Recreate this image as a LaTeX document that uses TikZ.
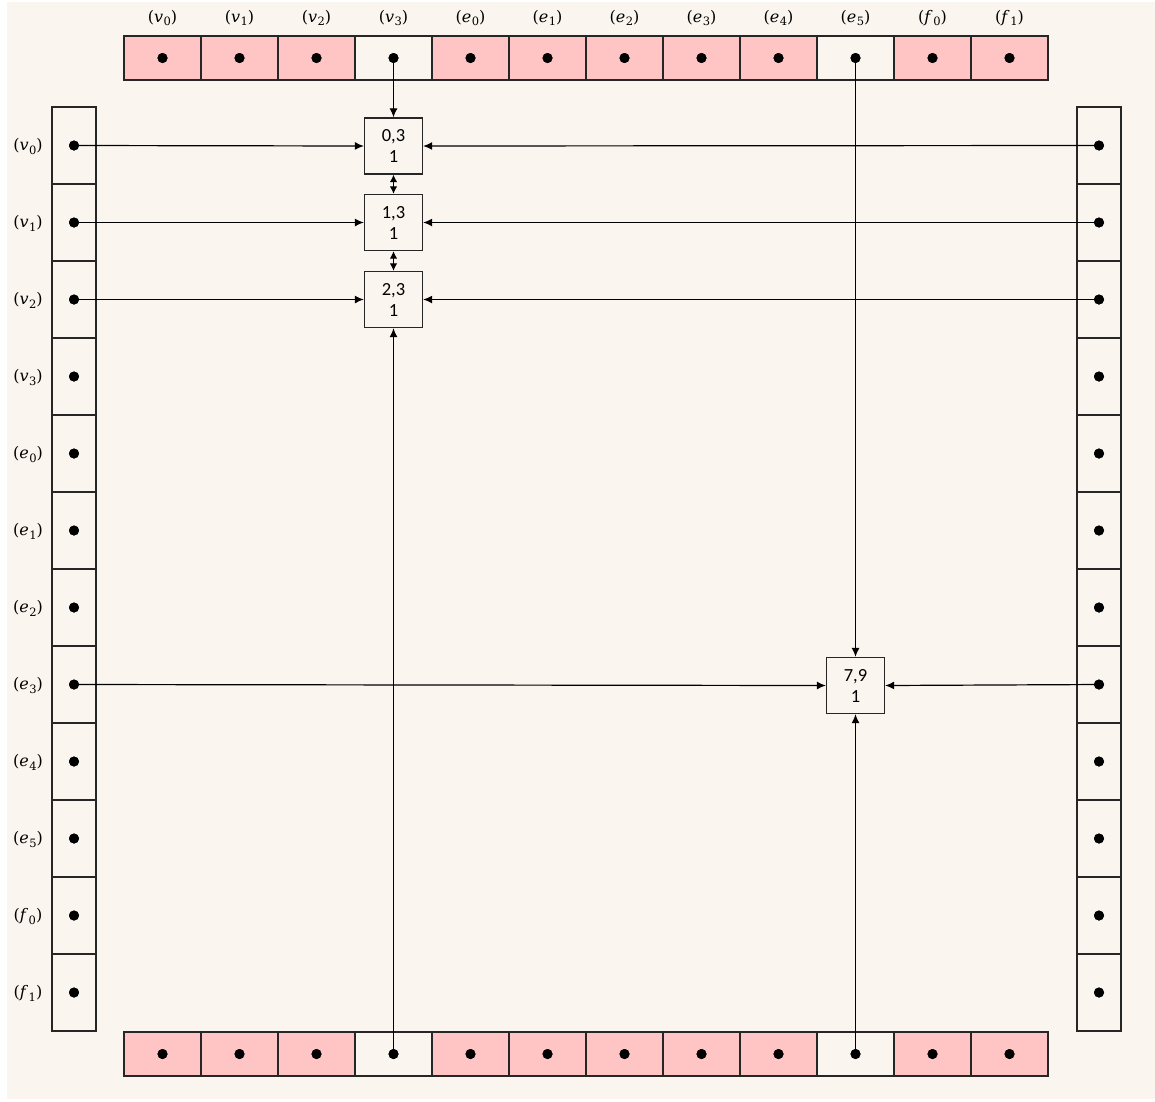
\documentclass[tikz,border=0pt]{standalone}
\usepackage{fontspec}
\newfontfamily\boxfont{Carlito}
\newfontfamily\labfont{DejaVu Serif}
\usetikzlibrary{arrows.meta}
\definecolor{bgc}{HTML}{FAF6EF}
\definecolor{pinkc}{HTML}{FFC4C4}
\newcommand{\biglab}[2]{{\labfont\fontsize{16}{19}\selectfont(\textit{#1}\kern0.5pt\raisebox{-3.5pt}{\fontsize{11.5}{13}\selectfont #2})}}
\begin{document}
\begin{tikzpicture}[x=1pt,y=-1pt,
  cell/.style={draw=black!85,line width=1.3pt,inner sep=0pt,outer sep=0pt},
  hcell/.style={cell,minimum width=77pt,minimum height=44pt},
  vcell/.style={cell,minimum width=44pt,minimum height=77pt},
  dotn/.style={circle,fill=black,inner sep=0pt,minimum size=10pt},
  lab/.style={inner sep=0pt},
  valbox/.style={draw=black!85,line width=1.3pt,fill=bgc,minimum width=58pt,minimum height=56pt,inner sep=0pt,align=center,font=\boxfont\fontsize{18.5}{21}\selectfont},
  arr/.style={line width=1.2pt,-{Latex[length=9pt,width=8pt]}},
  darr/.style={line width=1.2pt,{Latex[length=7.5pt,width=7.5pt]}-{Latex[length=7.5pt,width=7.5pt]}}]
\useasboundingbox (0,0) rectangle (1155,1101);
\fill[white] (0,0) rectangle (1155,1101);
\fill[bgc] (7,2) rectangle (1155,1099);
% top and bottom rows
\foreach \i/\a/\b in {0/v/0,1/v/1,2/v/2,3/v/3,4/e/0,5/e/1,6/e/2,7/e/3,8/e/4,9/e/5,10/f/0,11/f/1}{
  \ifnum\i=3 \def\fc{bgc}\else\ifnum\i=9 \def\fc{bgc}\else\def\fc{pinkc}\fi\fi
  \node[hcell,fill=\fc] (t\i) at ({162.5+77*\i},58) {};
  \node[dotn] (td\i) at (t\i.center) {};
  \node[lab] (tl\i) at ({162.5+77*\i},18) {\biglab{\a}{\b}};
  \node[hcell,fill=\fc] (b\i) at ({162.5+77*\i},1054) {};
  \node[dotn] (bd\i) at (b\i.center) {};
  \node[vcell,fill=bgc] (l\i) at (74,{145.5+77*\i}) {};
  \node[dotn] (ld\i) at (l\i.center) {};
  \node[lab] (ll\i) at (28,{146.5+77*\i}) {\biglab{\a}{\b}};
  \node[vcell,fill=bgc] (r\i) at (1099,{145.5+77*\i}) {};
  \node[dotn] (rd\i) at (r\i.center) {};
}
% value boxes
\node[valbox] (A) at (393.5,146) {0,3\\1};
\node[valbox] (B) at (393.5,222.5) {1,3\\1};
\node[valbox] (C) at (393.5,299.5) {2,3\\1};
\node[valbox] (D) at (855.5,685.5) {7,9\\1};
% connectors
\draw[arr] (td3.center) -- (A.north);
\draw[arr] (ld0.center) -- (A.west);
\draw[arr] (rd0.center) -- (A.east);
\draw[arr] (ld1.center) -- (B.west);
\draw[arr] (rd1.center) -- (B.east);
\draw[arr] (ld2.center) -- (C.west);
\draw[arr] (rd2.center) -- (C.east);
\draw[arr] (bd3.center) -- (C.south);
\draw[darr] (A.south) -- (B.north);
\draw[darr] (B.south) -- (C.north);
\draw[arr] (td9.center) -- (D.north);
\draw[arr] (bd9.center) -- (D.south);
\draw[arr] (ld7.center) -- (D.west);
\draw[arr] (rd7.center) -- (D.east);
% redraw dots on top
\foreach \i in {0,...,11}{
  \fill (td\i) circle (5pt); \fill (bd\i) circle (5pt);
  \fill (ld\i) circle (5pt); \fill (rd\i) circle (5pt);
}
\end{tikzpicture}
\end{document}
